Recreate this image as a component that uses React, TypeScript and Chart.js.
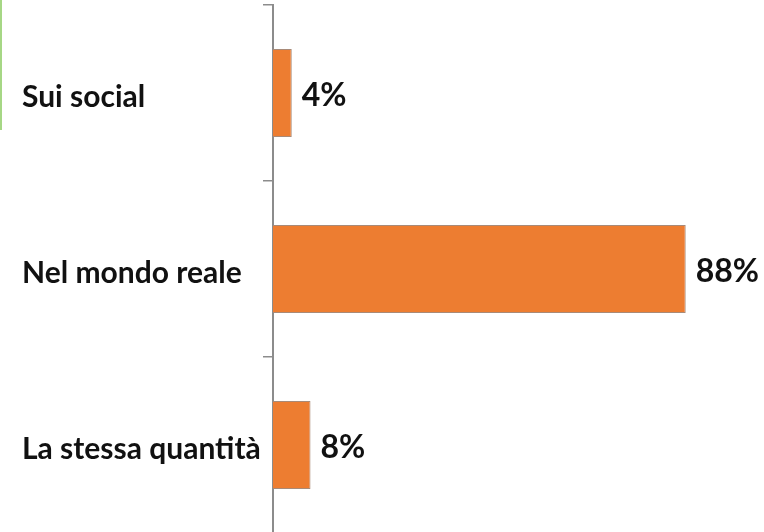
import React, { useEffect, useRef } from "react";
import { Chart, registerables } from "chart.js";

Chart.register(...registerables);

const categories = ["Sui social", "Nel mondo reale", "La stessa quantità"];
const values = [4, 88, 8];
const valueLabels = ["4%", "88%", "8%"];

const FONT = "Lato, 'Open Sans', sans-serif";

const valueLabelPlugin = {
  id: "valueLabels",
  beforeDraw(chart: any) {
    const scale = chart.scales.y;
    const items = scale.getLabelItems(chart.chartArea);
    if (items && !(items as any).__shifted) {
      items.forEach((it: any) => {
        if (it.options && it.options.translation) it.options.translation[1] += 4;
      });
      (items as any).__shifted = true;
    }
  },
  afterDatasetsDraw(chart: any) {
    const ctx = chart.ctx;
    const meta = chart.getDatasetMeta(0);
    ctx.save();
    ctx.font = `bold 32px ${FONT}`;
    ctx.fillStyle = "#111111";
    ctx.textAlign = "left";
    ctx.textBaseline = "middle";
    meta.data.forEach((el: any, i: number) => {
      ctx.fillText(valueLabels[i], el.x + 10, el.y + 3);
    });
    ctx.restore();
  },
};

export default function App() {
  const ref = useRef<HTMLCanvasElement | null>(null);

  useEffect(() => {
    if (!ref.current) return;
    const chart = new Chart(ref.current, {
      type: "bar",
      data: {
        labels: categories,
        datasets: [
          {
            data: values,
            backgroundColor: "#ED7D31",
            borderColor: "#a88a78",
            borderWidth: 1,
            barPercentage: 0.5,
            categoryPercentage: 1,
          },
        ],
      },
      options: {
        indexAxis: "y",
        animation: false,
        responsive: true,
        maintainAspectRatio: false,
        layout: { padding: { left: 22, top: 5, bottom: 7, right: 22 } },
        plugins: {
          legend: { display: false },
          tooltip: { enabled: false },
        },
        scales: {
          x: { display: false, min: 0, max: 100 },
          y: {
            afterFit: (scale: any) => {
              scale.width = 251;
              scale.paddingTop = 0;
              scale.paddingBottom = 0;
            },
            border: { display: true, color: "#8c8c8c", width: 2 },
            grid: {
              display: true,
              drawOnChartArea: false,
              drawTicks: true,
              tickLength: 10,
              offset: true,
              color: "#8c8c8c",
              lineWidth: 1.5,
            },
            ticks: {
              crossAlign: "far",
              color: "#111111",
              font: { family: FONT, size: 30, weight: "bold" },
              padding: 0,
            },
          },
        },
      },
      plugins: [valueLabelPlugin],
    });
    return () => chart.destroy();
  }, []);

  return (
    <div
      style={{
        position: "absolute",
        left: 0,
        top: 0,
        width: 764,
        height: 532,
        overflow: "hidden",
        background: "#ffffff",
      }}
    >
      <div
        style={{
          position: "absolute",
          left: 0,
          top: 0,
          width: 2,
          height: 130,
          background: "#a6d785",
        }}
      />
      <div style={{ position: "relative", width: 764, height: 540 }}>
        <canvas ref={ref} />
      </div>
    </div>
  );
}
